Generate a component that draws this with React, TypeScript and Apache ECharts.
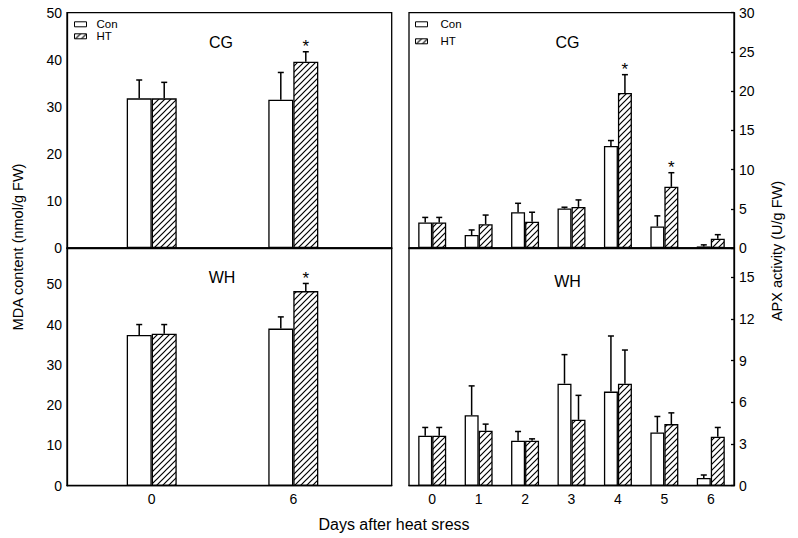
import React, { useEffect, useRef } from 'react';
import * as echarts from 'echarts';

// ---------- data ----------
const mdaDays = [0, 6];
const apxDays = ['0', '1', '2', '3', '4', '5', '6'];
const mdaTicks = [0, 10, 20, 30, 40, 50];
const apxWhTicks = [0, 3, 6, 9, 12, 15];

const mdaCgCon = [31.8, 31.5];
const mdaCgConSd = [3.9, 5.8];
const mdaCgHt = [31.8, 39.6];
const mdaCgHtSd = [3.4, 2.1];
const mdaCgHtStar = [0, 1];

const mdaWhCon = [37.4, 39.0];
const mdaWhConSd = [2.6, 2.9];
const mdaWhHt = [37.7, 48.3];
const mdaWhHtSd = [2.3, 1.9];
const mdaWhHtStar = [0, 1];

const apxCgCon = [3.25, 1.65, 4.56, 5.03, 13.0, 2.75, 0.2];
const apxCgConSd = [0.65, 0.65, 1.14, 0.17, 0.7, 1.35, 0.2];
const apxCgHt = [3.25, 3.04, 3.34, 5.24, 19.77, 7.8, 1.18];
const apxCgHtSd = [0.65, 1.16, 1.22, 0.89, 2.33, 1.8, 0.52];
const apxCgHtStar = [0, 0, 0, 0, 1, 1, 0];

const apxWhCon = [3.59, 5.07, 3.23, 7.34, 6.77, 3.83, 0.55];
const apxWhConSd = [0.6, 2.11, 0.67, 2.09, 4.0, 1.15, 0.22];
const apxWhHt = [3.59, 3.95, 3.23, 4.74, 7.34, 4.43, 3.52];
const apxWhHtSd = [0.6, 0.48, 0.14, 1.76, 2.42, 0.81, 0.67];

const FONT = 'Liberation Sans, Arial, sans-serif';

function makeHatch() {
  const s = 6;
  const c = document.createElement('canvas');
  c.width = s;
  c.height = s;
  const ctx = c.getContext('2d')!;
  ctx.fillStyle = '#fff';
  ctx.fillRect(0, 0, s, s);
  ctx.strokeStyle = '#000';
  ctx.lineWidth = 1.2;
  ctx.beginPath();
  ctx.moveTo(0, s);
  ctx.lineTo(s, 0);
  ctx.moveTo(-1, 1);
  ctx.lineTo(1, -1);
  ctx.moveTo(s - 1, s + 1);
  ctx.lineTo(s + 1, s - 1);
  ctx.stroke();
  return c;
}

function errSeries(xi: number, xs: any[], vals: number[], sds: number[], stars: number[] | null, offset: number) {
  return {
    type: 'custom',
    name: 'err',
    xAxisIndex: xi,
    yAxisIndex: xi,
    z: 5,
    silent: true,
    data: vals.map((v, i) => [xs[i], v, v + sds[i], stars ? stars[i] : 0]),
    encode: { x: 0, y: [1, 2] },
    renderItem: (params: any, api: any) => {
      const base = api.coord([api.value(0), api.value(1)]);
      const top = api.coord([api.value(0), api.value(2)]);
      const cx = base[0] + offset;
      const children: any[] = [
        { type: 'line', shape: { x1: cx, y1: base[1], x2: cx, y2: top[1] }, style: { stroke: '#000', lineWidth: 1.5 } },
        { type: 'line', shape: { x1: cx - 3, y1: top[1], x2: cx + 3, y2: top[1] }, style: { stroke: '#000', lineWidth: 1.5 } },
      ];
      if (api.value(3)) {
        children.push({
          type: 'text',
          x: cx,
          y: top[1] - 5,
          style: { text: '*', fill: '#000', fontSize: 17, fontFamily: FONT, align: 'center', verticalAlign: 'middle' },
        });
      }
      return { type: 'group', children };
    },
  };
}

export default function App() {
  const ref = useRef<HTMLDivElement>(null);
  useEffect(() => {
    if (!ref.current) return;
    const chart = echarts.init(ref.current, null, { renderer: 'svg' });
    const hatch = { image: makeHatch(), repeat: 'repeat', imageWidth: 6, imageHeight: 6 } as any;
    const conStyle = { color: '#fff', borderColor: '#000', borderWidth: 1.3 };
    const htStyle = { color: hatch, borderColor: '#000', borderWidth: 1.3 };
    const axisLine = { show: true, onZero: false, lineStyle: { color: '#000', width: 1.3 } };
    const lbl = { color: '#000', fontSize: 14, fontFamily: FONT };
    const gridBase = { show: true, borderColor: '#000', borderWidth: 1.3, backgroundColor: 'transparent' };

    const valX = (gi: number, showLabels: boolean) => ({
      type: 'value', gridIndex: gi, min: -3.59, max: 10.17,
      axisLine, axisTick: { show: false }, splitLine: { show: false },
      axisLabel: showLabels ? { ...lbl, margin: 6, customValues: mdaDays } : { show: false },
    });
    const catX = (gi: number, showLabels: boolean) => ({
      type: 'category', gridIndex: gi, data: apxDays,
      axisLine, axisTick: { show: false }, splitLine: { show: false },
      axisLabel: showLabels ? { ...lbl, margin: 6 } : { show: false },
    });

    const bar = (name: string, xi: number, data: any[], style: any, bw: number) => ({
      type: 'bar', name, xAxisIndex: xi, yAxisIndex: xi, data, itemStyle: style,
      barWidth: bw, barGap: '0%', z: 2,
    });

    const legendBase = {
      data: ['Con', 'HT'], orient: 'vertical', padding: 0, itemWidth: 12, itemHeight: 5, icon: 'rect',
      selectedMode: false, itemStyle: { borderWidth: 1 },
    };

    const option: any = {
      animation: false,
      textStyle: { fontFamily: FONT },
      grid: [
        { ...gridBase, left: 67, top: 12.7, width: 324.7, height: 235.3 },
        { ...gridBase, left: 67, top: 248, width: 324.7, height: 237.7 },
        { ...gridBase, left: 409, top: 12.7, width: 325, height: 235.3 },
        { ...gridBase, left: 409, top: 248, width: 325, height: 237.7 },
      ],
      xAxis: [valX(0, false), valX(1, true), catX(2, false), catX(3, true)],
      yAxis: [
        { type: 'value', gridIndex: 0, min: 0, max: 50, interval: 10, axisLine, axisTick: { show: false }, splitLine: { show: false }, axisLabel: { ...lbl, margin: 5 } },
        { type: 'value', gridIndex: 1, min: 0, max: 59, interval: 10, axisLine, axisTick: { show: false }, splitLine: { show: false }, axisLabel: { ...lbl, margin: 5, customValues: mdaTicks } },
        { type: 'value', gridIndex: 2, position: 'right', min: 0, max: 30, interval: 5, axisLine, axisTick: { show: true, inside: true, length: 3, lineStyle: { color: '#000', width: 1.3 } }, splitLine: { show: false }, axisLabel: { ...lbl, margin: 5 } },
        { type: 'value', gridIndex: 3, position: 'right', min: 0, max: 17.1, interval: 3, axisLine, axisTick: { show: true, inside: true, length: 3, customValues: apxWhTicks, lineStyle: { color: '#000', width: 1.3 } }, splitLine: { show: false }, axisLabel: { ...lbl, margin: 5, customValues: apxWhTicks } },
      ],
      legend: [
        { ...legendBase, left: 74, top: 18.3, itemGap: 0, textStyle: { fontSize: 11.5, color: '#000', fontFamily: FONT, padding: [0, 0, 0, 5] } },
        { ...legendBase, left: 415, top: 18.3, itemGap: 5, textStyle: { fontSize: 11.5, color: '#000', fontFamily: FONT, padding: [0, 0, 0, 8] } },
      ],
      series: [
        bar('Con', 0, mdaDays.map((d, i) => [d, mdaCgCon[i]]), conStyle, 25),
        bar('HT', 0, mdaDays.map((d, i) => [d, mdaCgHt[i]]), htStyle, 25),
        bar('Con', 1, mdaDays.map((d, i) => [d, mdaWhCon[i]]), conStyle, 25),
        bar('HT', 1, mdaDays.map((d, i) => [d, mdaWhHt[i]]), htStyle, 25),
        bar('Con', 2, apxCgCon, conStyle, 14),
        bar('HT', 2, apxCgHt, htStyle, 14),
        bar('Con', 3, apxWhCon, conStyle, 14),
        bar('HT', 3, apxWhHt, htStyle, 14),
        errSeries(0, mdaDays, mdaCgCon, mdaCgConSd, null, -12.5),
        errSeries(0, mdaDays, mdaCgHt, mdaCgHtSd, mdaCgHtStar, 12.5),
        errSeries(1, mdaDays, mdaWhCon, mdaWhConSd, null, -12.5),
        errSeries(1, mdaDays, mdaWhHt, mdaWhHtSd, mdaWhHtStar, 12.5),
        errSeries(2, apxDays.map((_, i) => i), apxCgCon, apxCgConSd, null, -7),
        errSeries(2, apxDays.map((_, i) => i), apxCgHt, apxCgHtSd, apxCgHtStar, 7),
        errSeries(3, apxDays.map((_, i) => i), apxWhCon, apxWhConSd, null, -7),
        errSeries(3, apxDays.map((_, i) => i), apxWhHt, apxWhHtSd, null, 7),
      ],
      graphic: [
        { type: 'text', x: 221, y: 42, style: { text: 'CG', fontSize: 16, fontFamily: FONT, fill: '#000', align: 'center', verticalAlign: 'middle' } },
        { type: 'text', x: 222, y: 277, style: { text: 'WH', fontSize: 16, fontFamily: FONT, fill: '#000', align: 'center', verticalAlign: 'middle' } },
        { type: 'text', x: 567.5, y: 42, style: { text: 'CG', fontSize: 16, fontFamily: FONT, fill: '#000', align: 'center', verticalAlign: 'middle' } },
        { type: 'text', x: 567.5, y: 281, style: { text: 'WH', fontSize: 16, fontFamily: FONT, fill: '#000', align: 'center', verticalAlign: 'middle' } },
        { type: 'text', x: 18, y: 247, rotation: Math.PI / 2, style: { text: 'MDA content (nmol/g FW)', fontSize: 14.5, fontFamily: FONT, fill: '#000', align: 'center', verticalAlign: 'middle' } },
        { type: 'text', x: 777, y: 251, rotation: Math.PI / 2, style: { text: 'APX activity (U/g FW)', fontSize: 14.5, fontFamily: FONT, fill: '#000', align: 'center', verticalAlign: 'middle' } },
        { type: 'text', x: 394, y: 524, style: { text: 'Days after heat sress', fontSize: 16, fontFamily: FONT, fill: '#000', align: 'center', verticalAlign: 'middle' } },
      ],
    };
    chart.setOption(option);
    return () => chart.dispose();
  }, []);
  return <div ref={ref} style={{ position: 'fixed', left: 0, top: 0, width: 798, height: 538, background: '#fff' }} />;
}
